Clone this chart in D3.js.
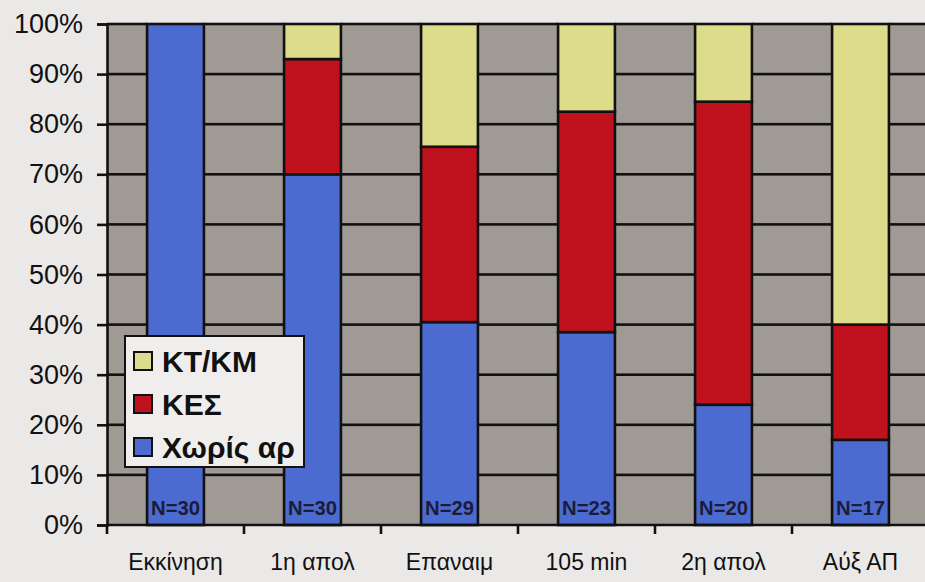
<!DOCTYPE html>
<html>
<head>
<meta charset="utf-8">
<script src="https://cdn.jsdelivr.net/npm/d3@7"></script>
<style>
  html, body { margin: 0; padding: 0; background: #ebe8e8; }
  svg { display: block; font-family: "Liberation Sans", Arial, sans-serif; }
</style>
</head>
<body>
<svg id="chart" width="925" height="582"></svg>
<script>
// Stage of measurement
const categories = ["Εκκίνηση", "1η απολ", "Επαναιμ", "105 min", "2η απολ", "Αύξ ΑΠ"];
// Sample size per stage
const sampleSizes = [30, 30, 29, 23, 20, 17];
// Share of patients (%) per group, stacked bottom to top
const noArrhythmia = [100, 70, 40.5, 38.5, 24, 17];   // Χωρίς αρ
const kes = [0, 23, 35, 44, 60.5, 23];                // ΚΕΣ
const ktkm = [0, 7, 24.5, 17.5, 15.5, 60];             // ΚΤ/ΚΜ
const yTicks = [0, 10, 20, 30, 40, 50, 60, 70, 80, 90, 100];

const seriesNames = ["Χωρίς αρ", "ΚΕΣ", "ΚΤ/ΚΜ"];
const legendLabels = ["Χωρίς αρ", "ΚΕΣ", "KT/KM"];
const seriesColors = ["#4b6bd0", "#c0111f", "#dcdc8a"];

const rows = categories.map((c, i) => ({
  cat: c,
  "Χωρίς αρ": noArrhythmia[i],
  "ΚΕΣ": kes[i],
  "ΚΤ/ΚΜ": ktkm[i]
}));
const stacked = d3.stack().keys(seriesNames)(rows);

const svg = d3.select("#chart");
const plot = { left: 107, top: 24, right: 925, bottom: 525 };

const step = 137;
const xScale = d3.scaleBand().domain(categories).range([plot.left, plot.left + step * categories.length])
  .paddingInner(0.585).paddingOuter(0.2925);
const yScale = d3.scaleLinear().domain([0, 100]).range([plot.bottom, plot.top]);

// plot background
svg.append("rect")
  .attr("x", plot.left).attr("y", plot.top)
  .attr("width", plot.right - plot.left).attr("height", plot.bottom - plot.top)
  .attr("fill", "#a09a94");

// gridline segments in the gaps between bars, one per tick and gap
const gapEdges = [plot.left];
categories.forEach(c => { gapEdges.push(xScale(c)); gapEdges.push(xScale(c) + xScale.bandwidth()); });
gapEdges.push(plot.right);
const gaps = d3.range(0, gapEdges.length, 2).map(i => [gapEdges[i], gapEdges[i + 1]]);
const gridSegs = [];
yTicks.slice(1).forEach(t => gaps.forEach(g => gridSegs.push({ t, x0: g[0], x1: g[1] })));
svg.append("g").attr("class", "gridlines").selectAll("rect")
  .data(gridSegs).join("rect")
  .attr("x", d => d.x0).attr("width", d => d.x1 - d.x0)
  .attr("y", d => yScale(d.t) - 1.3).attr("height", 2.6)
  .attr("fill", "#111");

// stacked bars
svg.append("g").attr("class", "bars")
  .selectAll("g").data(stacked).join("g")
  .attr("fill", (d, i) => seriesColors[i])
  .selectAll("rect").data(d => d.filter(p => p[1] - p[0] > 0)).join("rect")
  .attr("x", d => xScale(d.data.cat))
  .attr("y", d => yScale(d[1]))
  .attr("width", xScale.bandwidth())
  .attr("height", d => yScale(d[0]) - yScale(d[1]))
  .attr("stroke", "#111").attr("stroke-width", 2.6);

// N labels inside the base of each bar
svg.append("g").selectAll("text").data(categories).join("text")
  .attr("x", d => xScale(d) + xScale.bandwidth() / 2)
  .attr("y", plot.bottom - 10)
  .attr("text-anchor", "middle")
  .attr("font-size", 20).attr("font-weight", "bold")
  .attr("fill", "#1c1c3a")
  .attr("textLength", 49).attr("lengthAdjust", "spacingAndGlyphs")
  .text((d, i) => "N=" + sampleSizes[i]);

// y axis
const yAxis = d3.axisLeft(yScale).tickValues(yTicks).tickFormat(d => d + "%")
  .tickSize(10).tickPadding(14);
const gy = svg.append("g").attr("transform", `translate(${plot.left},0)`).call(yAxis);
gy.select(".domain").attr("stroke", "#111").attr("stroke-width", 2.6);
gy.selectAll(".tick line").attr("stroke", "#111").attr("stroke-width", 2.6);
gy.selectAll(".tick text").attr("font-size", 27).attr("fill", "#111")
  .attr("font-family", "Liberation Sans, Arial, sans-serif");

// x axis: baseline, ticks at category boundaries, labels centred
svg.append("line")
  .attr("x1", plot.left).attr("x2", plot.right)
  .attr("y1", plot.bottom).attr("y2", plot.bottom)
  .attr("stroke", "#111").attr("stroke-width", 2.6);
svg.append("g").selectAll("line").data(d3.range(categories.length + 1)).join("line")
  .attr("x1", i => plot.left + i * step).attr("x2", i => plot.left + i * step)
  .attr("y1", plot.bottom).attr("y2", plot.bottom + 9)
  .attr("stroke", "#111").attr("stroke-width", 2.6);
svg.append("g").selectAll("text").data(categories).join("text")
  .attr("x", d => xScale(d) + xScale.bandwidth() / 2)
  .attr("y", 570)
  .attr("text-anchor", "middle")
  .attr("font-size", 23).attr("fill", "#111")
  .text(d => d);

// legend
const legend = svg.append("g").attr("transform", "translate(125,336)");
legend.append("rect").attr("width", 179).attr("height", 131)
  .attr("fill", "#efeeed").attr("stroke", "#111").attr("stroke-width", 2);
const legendOrder = [2, 1, 0];
const li = legend.selectAll("g.item").data(legendOrder).join("g")
  .attr("class", "item")
  .attr("transform", (d, i) => `translate(9,${25 + i * 43})`);
li.append("rect").attr("x", 0).attr("y", -9).attr("width", 18).attr("height", 18)
  .attr("fill", d => seriesColors[d]).attr("stroke", "#111").attr("stroke-width", 2);
li.append("text").attr("x", 28).attr("y", 0).attr("dy", "0.36em")
  .attr("font-size", 30).attr("font-weight", "bold").attr("fill", "#111")
  .text(d => legendLabels[d]);
</script>
</body>
</html>
